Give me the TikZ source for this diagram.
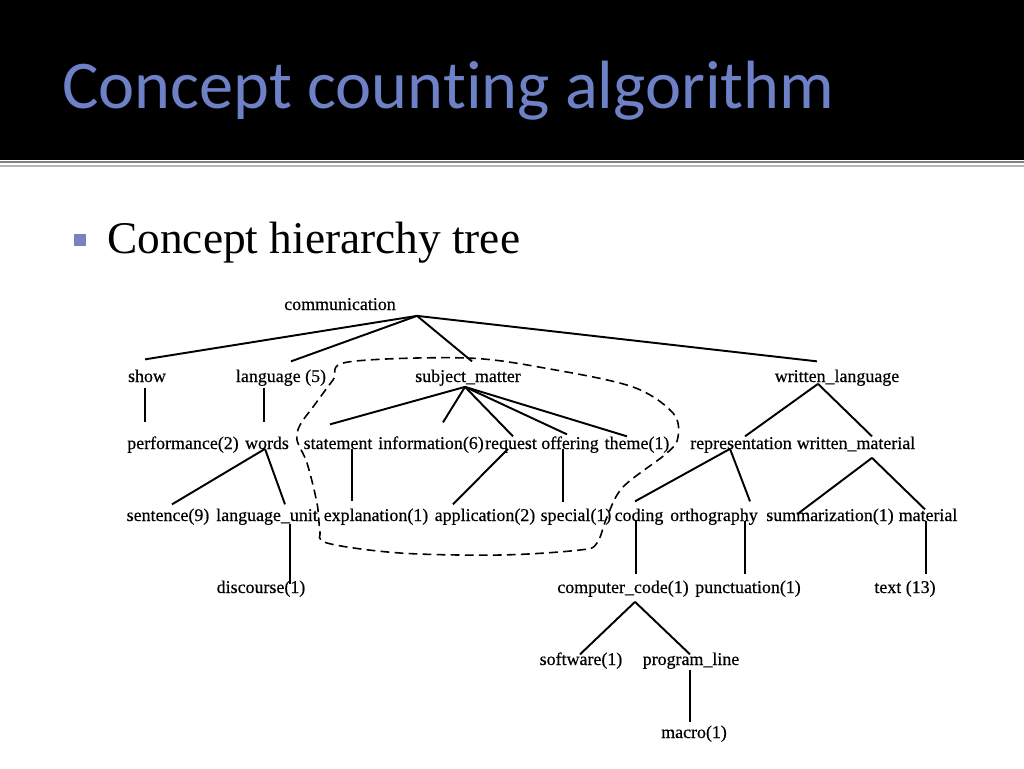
\documentclass[tikz,border=0pt]{standalone}
\usepackage{fontspec}
\setmainfont{Liberation Serif}
\newfontfamily\titlefont[Ligatures=NoCommon]{Carlito}
\newfontfamily\scanfont[FakeBold=0.5]{Liberation Serif}
\usetikzlibrary{calc}
\definecolor{titleblue}{HTML}{6E80C6}
\definecolor{bulletblue}{HTML}{7884BC}
\definecolor{ruleshade}{HTML}{B4B4B4}

\begin{document}
\begin{tikzpicture}[x=0.02cm, y=-0.02cm,
    concept/.style={inner sep=0pt, anchor=base, text height=7pt, text depth=2pt,
      font=\scanfont\fontsize{10.2}{12}\selectfont},
    branch/.style={line width=1.1pt},
    region/.style={line width=0.9pt, dash pattern=on 5pt off 3pt}]
  \useasboundingbox (0,0) rectangle (1024,768);
  % slide header
  \fill[black] (0,0) rectangle (1024,160);
  \draw[gray, line width=0.6pt] (0,162) -- (1024,162);
  \fill[ruleshade] (0,165) rectangle (1024,167);
  \node[anchor=base west, inner sep=0pt, text=titleblue,
    font=\titlefont\fontsize{38.9}{41}\selectfont] (title) at (62,108) {Concept counting algorithm};
  % bullet line
  \fill[bulletblue] (74,234) rectangle (86,246);
  \node[anchor=base west, inner sep=0pt, font=\fontsize{25.8}{28}\selectfont] (subtitle) at (107,253) {Concept hierarchy tree};

  % the tree
  \node[concept] (comm) at (340,310) {communication};
  \node[concept] (show) at (147,382) {show};
  \node[concept] (lang) at (281,382) {language (5)};
  \node[concept] (subj) at (468,382) {subject\_matter};
  \node[concept] (wlang) at (837,382) {written\_language};

  \node[concept] (perf) at (183,449) {performance(2)};
  \node[concept] (words) at (267,449) {words};
  \node[concept] (stmt) at (338,449) {statement};
  \node[concept] (info) at (431,449) {information(6)};
  \node[concept] (req) at (511,449) {request};
  \node[concept] (offer) at (570,449) {offering};
  \node[concept] (theme) at (637,449) {theme(1)};
  \node[concept] (repr) at (741,449) {representation};
  \node[concept] (wmat) at (856,449) {written\_material};

  \node[concept] (sent) at (168,521) {sentence(9)};
  \node[concept] (lunit) at (267,521) {language\_unit};
  \node[concept] (expl) at (376,521) {explanation(1)};
  \node[concept] (appl) at (485,521) {application(2)};
  \node[concept] (spec) at (576,521) {special(1)};
  \node[concept] (coding) at (639,521) {coding};
  \node[concept] (ortho) at (714,521) {orthography};
  \node[concept] (summ) at (830,521) {summarization(1)};
  \node[concept] (mat) at (928,521) {material};

  \node[concept] (disc) at (261,593) {discourse(1)};
  \node[concept] (ccode) at (623,593) {computer\_code(1)};
  \node[concept] (punct) at (748,593) {punctuation(1)};
  \node[concept] (txt) at (905,593) {text (13)};

  \node[concept] (soft) at (581,665) {software(1)};
  \node[concept] (pline) at (691,665) {program\_line};
  \node[concept] (macro) at (694,738) {macro(1)};

  % branches
  \draw[branch] ($(comm.south)+(77,2)$) -- ($(show.north)+(-2,-10)$);
  \draw[branch] ($(comm.south)+(77,2)$) -- ($(lang.north)+(10,-8)$);
  \draw[branch] ($(comm.south)+(77,2)$) -- ($(subj.north)+(4,-8)$);
  \draw[branch] ($(comm.south)+(77,2)$) -- ($(wlang.north)+(-20,-8)$);

  \draw[branch] ($(show.south)+(-2,2)$) -- ($(perf.north)+(-38,-14)$);
  \draw[branch] ($(lang.south)+(-17,2)$) -- ($(words.north)+(-3,-14)$);
  \draw[branch] ($(subj.south)+(-3,1)$) -- ($(stmt.north)+(-8,-12)$);
  \draw[branch] ($(subj.south)+(-3,1)$) -- ($(info.north)+(12,-14)$);
  \draw[branch] ($(subj.south)+(-3,1)$) -- ($(req.north)+(2,0)$);
  \draw[branch] ($(subj.south)+(-3,1)$) -- ($(offer.north)+(-3,-2)$);
  \draw[branch] ($(subj.south)+(-3,1)$) -- ($(theme.north)+(-10,0)$);
  \draw[branch] ($(wlang.south)+(-19,-2)$) -- ($(repr.north)+(4,0)$);
  \draw[branch] ($(wlang.south)+(-19,-2)$) -- ($(wmat.north)+(16,0)$);

  \draw[branch] ($(words.south)+(-2,-4)$) -- ($(sent.north)+(4,-4)$);
  \draw[branch] ($(words.south)+(-2,-4)$) -- ($(lunit.north)+(18,-4)$);
  \draw[branch] ($(stmt.south)+(14,-4)$) -- ($(expl.north)+(-24,-7)$);
  \draw[branch] ($(req.south)+(-3,-4)$) -- ($(appl.north)+(-32,-4)$);
  \draw[branch] ($(offer.south)+(-7,-4)$) -- ($(spec.north)+(-13,-6)$);
  \draw[branch] ($(repr.south)+(-11,-4)$) -- ($(coding.north)+(-4,-7)$);
  \draw[branch] ($(repr.south)+(-11,-4)$) -- ($(ortho.north)+(36,-7)$);
  \draw[branch] ($(wmat.south)+(16,5)$) -- ($(summ.north)+(-33,6)$);
  \draw[branch] ($(wmat.south)+(16,5)$) -- ($(mat.north)+(-3,1)$);

  \draw[branch] ($(lunit.south)+(23,-1)$) -- ($(disc.north)+(29,4)$);
  \draw[branch] ($(coding.south)+(-3,-4)$) -- ($(ccode.north)+(13,-6)$);
  \draw[branch] ($(ortho.south)+(31,-4)$) -- ($(punct.north)+(-3,-6)$);
  \draw[branch] ($(mat.south)+(-2,-4)$) -- ($(txt.north)+(21,-6)$);
  \draw[branch] ($(ccode.south)+(12,5)$) -- ($(soft.north)+(-1,2)$);
  \draw[branch] ($(ccode.south)+(12,5)$) -- ($(pline.north)+(-1,2)$);
  \draw[branch] ($(pline.south)+(-1,1)$) -- ($(macro.north)+(-4,-3)$);

  % dashed region round subject_matter
  \draw[region] plot[smooth cycle, tension=0.55] coordinates {
    (348,362) (467,358) (550,369) (633,387) (673,413) (678,437) (667,453)
    (623,487) (607,517) (597,543) (580,550) (500,555) (400,553) (327,543)
    (320,530) (317,503) (307,463) (297,440) (300,425) (313,407) (333,380)};
\end{tikzpicture}
\end{document}
